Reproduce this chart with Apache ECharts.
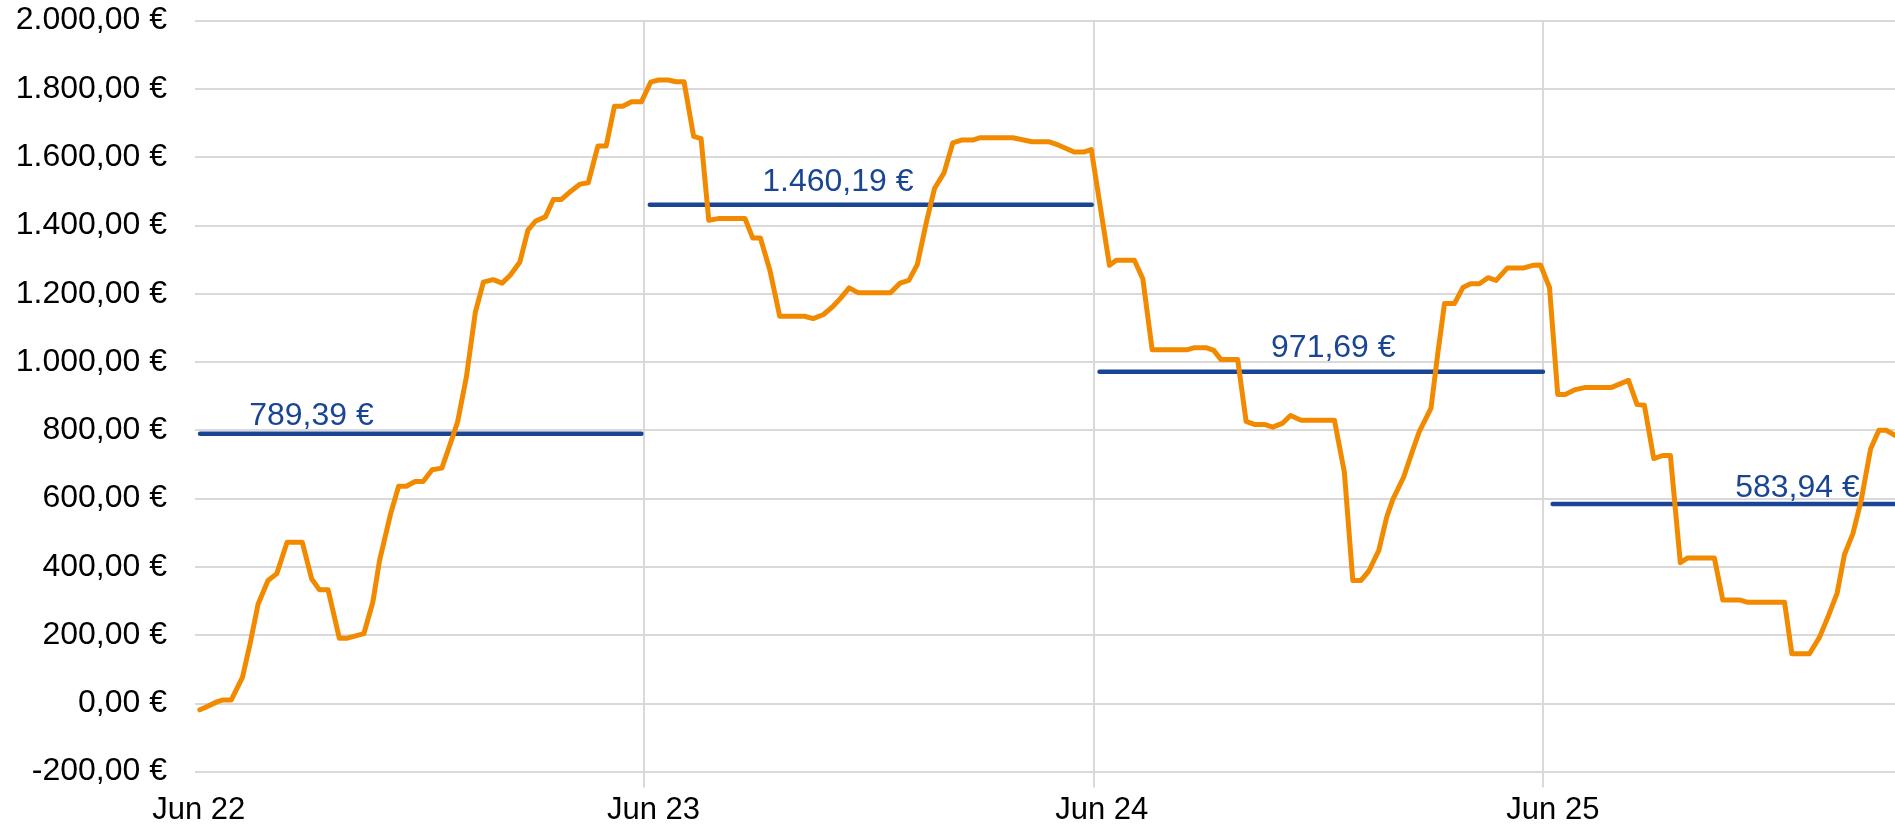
<!DOCTYPE html>
<html>
<head>
<meta charset="utf-8">
<script src="https://cdn.jsdelivr.net/npm/echarts@6/dist/echarts.min.js"></script>
<style>
  html, body { margin: 0; padding: 0; background: #fff; }
  #chart { width: 1895px; height: 827px; }
</style>
</head>
<body>
<div id="chart"></div>
<script>
// x values are hours since Jun 22 00:00
const dayLabels = ["Jun 22", "Jun 23", "Jun 24", "Jun 25"];
const dayTicks = [0, 24, 48, 72];

const hours = [
  0.26, 0.51, 1.20, 1.51, 1.94, 2.54, 2.94, 3.37, 3.90, 4.37, 4.92, 5.73, 6.23, 6.64, 7.11, 7.71,
  8.14, 9.02, 9.50, 9.86, 10.45, 10.88, 11.29, 11.76, 12.19, 12.67, 13.19, 13.67, 14.03, 14.50,
  14.98, 15.41, 15.93, 16.41, 16.84, 17.36, 17.79, 18.20, 18.72, 19.15, 19.58, 20.10, 20.58, 21.01,
  21.53, 21.97, 22.41, 22.85, 23.32, 23.85,
  24.35, 24.75, 25.28, 25.70, 26.13, 26.64, 27.04, 27.45, 27.96, 29.39, 29.80, 30.21, 30.72, 31.24,
  32.56, 33.03, 33.58, 34.09, 34.50, 34.95, 35.42, 37.16, 37.67, 38.14, 38.59, 39.10, 39.51, 40.02,
  40.49, 40.95, 41.55, 41.96, 43.70, 44.72, 45.64, 46.15, 46.97, 47.48, 47.89,
  48.86, 49.22, 50.19, 50.64, 51.14, 53.04, 53.40, 54.02, 54.43, 54.82, 55.71, 56.16, 56.60, 57.14,
  57.58, 58.12, 58.53, 59.10, 60.88, 61.41, 61.86, 62.30, 62.71, 63.25, 63.67, 63.99, 64.58, 65.06,
  65.42, 66.04, 66.40, 66.76, 67.29, 67.74, 68.15, 68.63, 69.08, 69.52, 70.11, 70.95, 71.48, 71.89,
  72.37, 72.81, 73.21, 73.75, 74.24, 75.66, 76.59, 77.05, 77.44, 77.94, 78.42, 78.83, 79.36, 79.76,
  81.18, 81.63, 82.52, 82.97, 84.93, 85.32, 86.26, 86.80, 87.24, 87.74, 88.13, 88.58, 89.02, 89.53,
  89.97, 90.36, 90.83
];

const profit = [
  -19, -13, 5, 10, 10, 77, 174, 290, 360, 380, 472, 472, 365, 333, 333, 191,
  191, 204, 296, 418, 555, 636, 636, 650, 650, 684, 689, 765, 824, 956,
  1146, 1234, 1241, 1231, 1254, 1293, 1386, 1413, 1425, 1476, 1476, 1501, 1521, 1525,
  1633, 1633, 1749, 1749, 1762, 1762,
  1820, 1826, 1826, 1821, 1821, 1661, 1654, 1415, 1420, 1420, 1363, 1363, 1268, 1134,
  1134, 1127, 1139, 1163, 1187, 1217, 1203, 1203, 1231, 1239, 1285, 1415, 1508, 1554,
  1642, 1650, 1650, 1657, 1657, 1645, 1645, 1635, 1615, 1615, 1622,
  1283, 1298, 1298, 1244, 1036, 1036, 1042, 1042, 1034, 1007, 1007, 826, 817, 817,
  809, 821, 843, 829, 829, 677, 360, 360, 387, 448, 545, 596, 663, 741,
  797, 865, 1024, 1171, 1171, 1218, 1229, 1229, 1247, 1239, 1275, 1275, 1283, 1284,
  1218, 905, 905, 919, 925, 925, 946, 875, 873, 717, 726, 726, 412, 426,
  426, 303, 303, 296, 296, 145, 145, 194, 252, 323, 436, 497, 594, 746,
  800, 800, 785
];

// daily averages and the span each one covers
const avgValues = [789.39, 1460.19, 971.69, 583.94];
const avgStart = [0.27, 24.3, 48.33, 72.54];
const avgEnd = [23.85, 47.91, 72.02, 90.83];

// where the average labels sit (layout only)
const avgLabelAt = [6.22, 34.35, 60.82, 85.62];
const avgLabelGap = [2, 7, 7, 0];
const dayLabelAt = [0.2, 24.5, 48.45, 72.55];

const ORANGE = "#f28a00";
const BLUE = "#1a4593";
const GRID = "#d9d9d9";
const FONT = "'Liberation Sans', Arial, sans-serif";

function euro(v) {
  const neg = v < 0;
  const parts = Math.abs(v).toFixed(2).split(".");
  const intPart = parts[0].replace(/\B(?=(\d{3})+(?!\d))/g, ".");
  return (neg ? "-" : "") + intPart + "," + parts[1] + " €";
}

const chart = echarts.init(document.getElementById("chart"), null, { renderer: "canvas" });

const avgSeries = avgValues.map((v, i) => ({
  name: "Avg " + dayLabels[i],
  type: "line",
  data: [[avgStart[i], v], [avgEnd[i], v]],
  symbol: "none",
  lineStyle: { color: BLUE, width: 4.5, cap: "round" },
  z: 2,
  silent: true,
  markPoint: {
    symbol: "circle",
    symbolSize: 0,
    silent: true,
    animation: false,
    data: [{ coord: [avgLabelAt[i], v] }],
    label: {
      show: true,
      position: "top",
      distance: avgLabelGap[i],
      formatter: euro(v),
      color: BLUE,
      fontSize: 32,
      fontFamily: FONT,
    },
  },
}));

const option = {
  animation: false,
  backgroundColor: "#fff",
  grid: { left: 195, right: 0, top: 20.6, bottom: 55.4, containLabel: false },
  xAxis: {
    type: "value",
    min: 0,
    max: 90.83,
    interval: 24,
    axisLine: { show: false, onZero: false },
    // ticks (and so the vertical grid lines) only at the later midnights
    axisTick: {
      show: true,
      interval: 0,
      customValues: dayTicks.slice(1),
      length: 16,
      lineStyle: { color: GRID, width: 2 },
    },
    splitLine: {
      show: true,
      interval: 0,
      lineStyle: { color: GRID, width: 2 },
    },
    axisLabel: {
      customValues: dayLabelAt,
      formatter: (v) => dayLabels[Math.round(v / 24)] || "",
      color: "#000",
      fontSize: 31,
      fontFamily: FONT,
      margin: 23,
    },
  },
  yAxis: {
    type: "value",
    min: -200,
    max: 2000,
    interval: 200,
    axisLine: { show: false },
    axisTick: { show: false },
    splitLine: { lineStyle: { color: GRID, width: 2 } },
    axisLabel: {
      formatter: euro,
      color: "#000",
      fontSize: 32,
      fontFamily: FONT,
      margin: 28,
    },
  },
  series: [
    ...avgSeries,
    {
      name: "Profit",
      type: "line",
      data: hours.map((h, i) => [h, profit[i]]),
      symbol: "none",
      lineStyle: { color: ORANGE, width: 5, join: "round", cap: "round" },
      z: 3,
      silent: true,
    },
  ],
};

chart.setOption(option);
</script>
</body>
</html>
